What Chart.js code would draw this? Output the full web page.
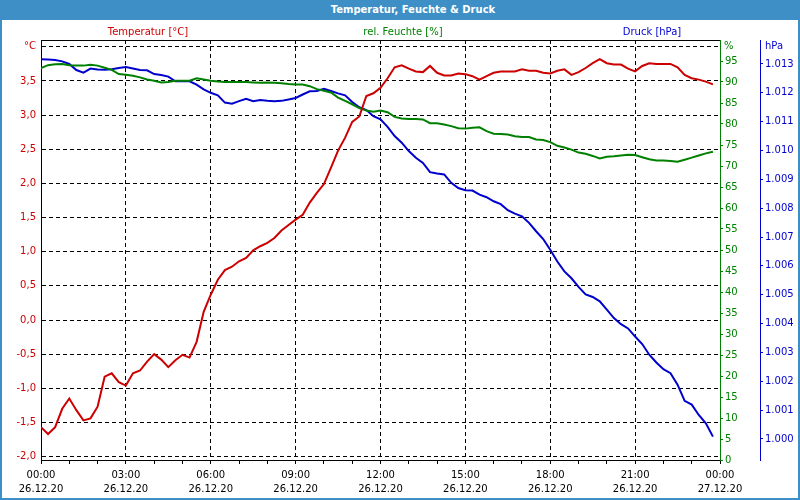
<!doctype html>
<html lang="de">
<head>
    <meta charset="UTF-8">
    <title>Temperatur, Feuchte & Druck</title>
    <script src="https://cdn.jsdelivr.net/npm/chart.js"></script>
    <style>
        body {
            margin: 0;
            width: 800px;
            height: 500px;
            background: #fff;
            overflow: hidden;
            position: relative;
            font-family: 'DejaVu Sans', sans-serif;
        }
        .titlebar {
            position: absolute;
            left: 0;
            top: 0;
            width: 800px;
            height: 20px;
            box-sizing: border-box;
            padding-left: 26px;
            background: #3d8fc6;
            color: #fff;
            font-weight: bold;
            font-size: 10px;
            line-height: 20px;
            text-align: center;
        }
        .chart-box {
            position: absolute;
            left: 0;
            top: 20px;
            width: 800px;
            height: 480px;
        }
        .frame {
            position: absolute;
            left: 0;
            top: 0;
            width: 800px;
            height: 500px;
            box-sizing: border-box;
            border: 2px solid #3d8fc6;
            border-top: none;
            pointer-events: none;
        }
    </style>
</head>
<body>
    <div class="titlebar">Temperatur, Feuchte &amp; Druck</div>
    <div class="chart-box"><canvas id="weatherChart"></canvas></div>
    <div class="frame"></div>

    <script>
        // values every 15 minutes, 26.12.20 00:00 - 23:45
        const temperature = [
            -1.57, -1.67, -1.57, -1.30, -1.15, -1.32, -1.47, -1.44, -1.27, -0.83, -0.78, -0.91,
            -0.96, -0.78, -0.74, -0.61, -0.50, -0.58, -0.69, -0.59, -0.51, -0.55, -0.32, 0.12,
            0.37, 0.59, 0.73, 0.78, 0.86, 0.91, 1.02, 1.08, 1.13, 1.20, 1.31, 1.39,
            1.47, 1.54, 1.72, 1.86, 1.99, 2.23, 2.48, 2.67, 2.90, 2.98, 3.28, 3.32,
            3.40, 3.54, 3.70, 3.73, 3.68, 3.64, 3.63, 3.72, 3.62, 3.58, 3.58, 3.61,
            3.60, 3.57, 3.52, 3.57, 3.62, 3.64, 3.64, 3.64, 3.67, 3.65, 3.65, 3.62,
            3.61, 3.65, 3.67, 3.59, 3.63, 3.69, 3.76, 3.82, 3.76, 3.74, 3.74, 3.68,
            3.64, 3.72, 3.76, 3.75, 3.75, 3.75, 3.70, 3.59, 3.54, 3.52, 3.49, 3.45
        ];
        const humidity = [
            93.3, 94.0, 94.2, 94.3, 94.0, 93.9, 93.9, 94.1, 93.9, 93.4, 92.9, 91.9,
            91.7, 91.5, 91.1, 90.6, 90.3, 89.9, 90.0, 90.3, 90.3, 90.3, 90.9, 90.6,
            90.3, 90.1, 90.0, 90.0, 90.0, 90.0, 89.9, 89.8, 89.9, 89.8, 89.7, 89.5,
            89.4, 89.4, 89.0, 88.3, 87.9, 87.5, 86.3, 85.5, 84.7, 83.8, 83.2, 82.9,
            83.2, 82.8, 81.7, 81.3, 81.2, 81.2, 81.1, 80.2, 80.2, 79.9, 79.5, 79.0,
            78.9, 79.1, 79.2, 78.3, 77.7, 77.6, 77.5, 77.1, 76.9, 76.9, 76.3, 76.2,
            75.7, 74.8, 74.4, 73.9, 73.2, 72.9, 72.4, 71.8, 72.2, 72.3, 72.5, 72.7,
            72.6, 72.1, 71.6, 71.3, 71.3, 71.2, 71.0, 71.5, 72.0, 72.5, 73.0, 73.4
        ];
        const pressure = [
            1013.16, 1013.15, 1013.14, 1013.09, 1013.00, 1012.79, 1012.70, 1012.84, 1012.81, 1012.80, 1012.82, 1012.86,
            1012.89, 1012.84, 1012.79, 1012.78, 1012.65, 1012.62, 1012.56, 1012.40, 1012.40, 1012.40, 1012.28, 1012.12,
            1012.00, 1011.91, 1011.66, 1011.62, 1011.71, 1011.79, 1011.71, 1011.75, 1011.72, 1011.71, 1011.72, 1011.77,
            1011.82, 1011.94, 1012.05, 1012.06, 1012.14, 1012.06, 1011.98, 1011.91, 1011.68, 1011.50, 1011.40, 1011.19,
            1011.08, 1010.82, 1010.50, 1010.27, 1009.98, 1009.75, 1009.57, 1009.25, 1009.20, 1009.17, 1008.88, 1008.70,
            1008.62, 1008.61, 1008.47, 1008.38, 1008.24, 1008.14, 1007.93, 1007.81, 1007.72, 1007.49, 1007.20, 1006.93,
            1006.56, 1006.15, 1005.81, 1005.57, 1005.27, 1005.01, 1004.92, 1004.77, 1004.48, 1004.19, 1003.98, 1003.83,
            1003.55, 1003.29, 1002.92, 1002.65, 1002.42, 1002.28, 1001.88, 1001.32, 1001.19, 1000.83, 1000.54, 1000.08
        ];
        const sampleHours = temperature.map((_, i) => i / 4);

        const timeLabels = ['00:00', '03:00', '06:00', '09:00', '12:00', '15:00', '18:00', '21:00', '00:00'];
        const dateLabels = ['26.12.20', '26.12.20', '26.12.20', '26.12.20', '26.12.20', '26.12.20', '26.12.20', '26.12.20', '27.12.20'];
        const tempTicks = [-2, -1.5, -1, -0.5, 0, 0.5, 1, 1.5, 2, 2.5, 3, 3.5, 4];
        const tempTickLabels = ['-2,0', '-1,5', '-1,0', '-0,5', '0,0', '0,5', '1,0', '1,5', '2,0', '2,5', '3,0', '3,5', '°C'];
        const humTicks = [0, 5, 10, 15, 20, 25, 30, 35, 40, 45, 50, 55, 60, 65, 70, 75, 80, 85, 90, 95];
        const pressTicks = [1000, 1001, 1002, 1003, 1004, 1005, 1006, 1007, 1008, 1009, 1010, 1011, 1012, 1013];
        const pressTickLabels = ['1.000', '1.001', '1.002', '1.003', '1.004', '1.005', '1.006', '1.007', '1.008', '1.009', '1.010', '1.011', '1.012', '1.013'];

        const RED = '#cc0000', GREEN = '#008000', BLUE = '#0000cc';
        const FONT = 'DejaVu Sans';

        Chart.defaults.font.family = FONT;
        Chart.defaults.font.size = 10;

        const fixWidth = (w) => (scale) => { scale.width = w; };

        const decor = {
            id: 'decor',
            afterDraw(chart) {
                const { ctx, chartArea, scales } = chart;
                ctx.save();
                ctx.strokeStyle = '#000';
                ctx.lineWidth = 1;
                ctx.beginPath();
                ctx.moveTo(chartArea.left, chartArea.top + 0.5);
                ctx.lineTo(chartArea.right, chartArea.top + 0.5);
                ctx.stroke();

                ctx.font = '10px "' + FONT + '"';
                ctx.textBaseline = 'middle';
                ctx.textAlign = 'center';
                ctx.fillStyle = RED;
                ctx.fillText('Temperatur [°C]', 148, 12);
                ctx.fillStyle = GREEN;
                ctx.fillText('rel. Feuchte [%]', 403, 12);
                ctx.fillStyle = BLUE;
                ctx.fillText('Druck [hPa]', 652, 12);

                ctx.textAlign = 'left';
                ctx.fillStyle = GREEN;
                ctx.fillText('%', scales.yHum.left + 4, chartArea.top + 6);
                ctx.fillStyle = BLUE;
                ctx.fillText('hPa', scales.yPress.left + 5, chartArea.top + 6);
                ctx.restore();
            }
        };

        new Chart(document.getElementById('weatherChart'), {
            type: 'line',
            data: {
                labels: sampleHours,
                datasets: [
                    { label: 'Temperatur [°C]', data: temperature, yAxisID: 'yTemp', borderColor: RED },
                    { label: 'rel. Feuchte [%]', data: humidity, yAxisID: 'yHum', borderColor: GREEN },
                    { label: 'Druck [hPa]', data: pressure, yAxisID: 'yPress', borderColor: BLUE }
                ]
            },
            options: {
                responsive: true,
                maintainAspectRatio: false,
                animation: false,
                layout: { padding: { top: 20, left: 0, right: 0, bottom: 0 } },
                elements: {
                    line: { borderWidth: 2, tension: 0, fill: false },
                    point: { radius: 0 }
                },
                plugins: {
                    legend: { display: false },
                    tooltip: { enabled: false }
                },
                scales: {
                    x: {
                        type: 'linear',
                        min: 0,
                        max: 24,
                        afterBuildTicks: (scale) => {
                            scale.ticks = Array.from({ length: 25 }, (_, h) => ({ value: h }));
                        },
                        afterFit: (scale) => { scale.height = 40; },
                        ticks: {
                            autoSkip: false,
                            maxRotation: 0,
                            minRotation: 0,
                            padding: 4,
                            color: '#000',
                            font: { size: 10, lineHeight: '14.5px' },
                            callback: (v) => v % 3 === 0 ? [timeLabels[v / 3], dateLabels[v / 3]] : ''
                        },
                        grid: {
                            color: (c) => (c.tick && c.tick.value % 3 === 0 && c.tick.value > 0 && c.tick.value < 24) ? '#000' : 'rgba(0,0,0,0)',
                            tickColor: '#000',
                            tickLength: 4,
                            tickBorderDash: []
                        },
                        border: { display: true, color: '#000', width: 1, dash: [4, 3] }
                    },
                    yTemp: {
                        type: 'linear',
                        position: 'left',
                        min: -2.05,
                        max: 4.1,
                        afterBuildTicks: (scale) => { scale.ticks = tempTicks.map(v => ({ value: v })); },
                        afterFit: fixWidth(41),
                        ticks: {
                            color: RED,
                            padding: 5,
                            callback: (v, i) => tempTickLabels[i]
                        },
                        grid: { color: '#000', drawTicks: false },
                        border: { display: true, color: '#000', width: 1, dash: [4, 3] }
                    },
                    yHum: {
                        type: 'linear',
                        position: 'right',
                        weight: 0,
                        min: 0,
                        max: 100,
                        afterBuildTicks: (scale) => { scale.ticks = humTicks.map(v => ({ value: v })); },
                        afterFit: fixWidth(40),
                        ticks: { color: GREEN, padding: 2, callback: (v) => String(v) },
                        grid: { drawOnChartArea: false, color: GREEN, tickColor: GREEN, tickLength: 3 },
                        border: { display: true, color: GREEN, width: 1 }
                    },
                    yPress: {
                        type: 'linear',
                        position: 'right',
                        weight: 1,
                        min: 999.27,
                        max: 1013.83,
                        afterBuildTicks: (scale) => { scale.ticks = pressTicks.map(v => ({ value: v })); },
                        afterFit: fixWidth(40),
                        ticks: { color: BLUE, padding: 2, callback: (v, i) => pressTickLabels[i] },
                        grid: { drawOnChartArea: false, color: BLUE, tickColor: BLUE, tickLength: 3 },
                        border: { display: true, color: BLUE, width: 1 }
                    }
                }
            },
            plugins: [decor]
        });
    </script>
</body>
</html>
